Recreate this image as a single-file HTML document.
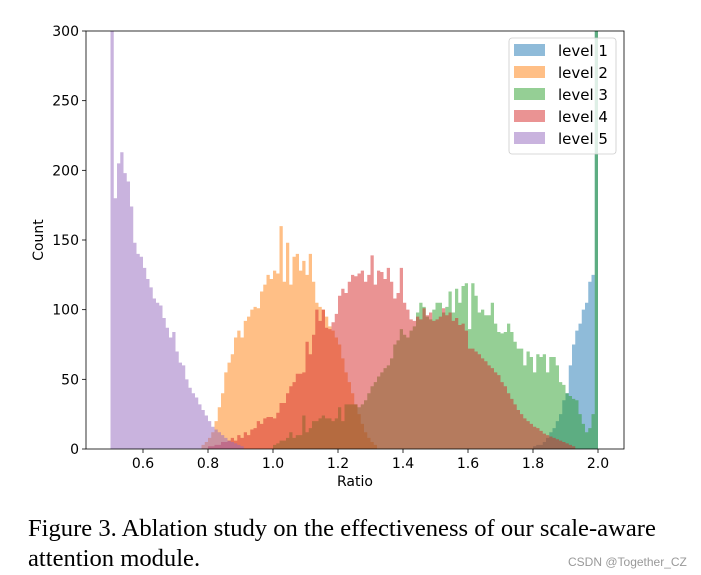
<!DOCTYPE html>
<html><head><meta charset="utf-8"><style>
html,body{margin:0;padding:0;background:#fff;width:701px;height:575px;overflow:hidden}
svg text{font-family:"DejaVu Sans","Liberation Sans",sans-serif}
.cap{position:absolute;left:28px;font-family:"Liberation Serif",serif;font-size:24.6px;color:#000;white-space:nowrap;line-height:30px}
</style></head><body>
<svg id="chart" width="701" height="575" style="position:absolute;left:0;top:0"></svg>
<div class="cap" style="top:514px">Figure 3. Ablation study on the effectiveness of our scale-aware</div>
<div class="cap" style="top:544px">attention module.</div>
<div style="position:absolute;left:568px;top:555px;font-family:'Liberation Sans',sans-serif;font-size:12px;color:#999">CSDN @Together_CZ</div>
<script>
const seriesNames=["level 1","level 2","level 3","level 4","level 5"];
const seriesColors=["#1f77b4","#ff7f0e","#2ca02c","#d62728","#9467bd"];
const binWidth=0.01;
const start1=1.80;
const level1=[2,3,3,5,8,12,15,20,25,35,40,60,75,85,90,100,105,120,125,330];
const start2=0.78;
const level2=[3,5,8,12,20,30,40,55,62,68,80,85,80,92,95,100,102,101,113,118,125,122,128,126,160,120,148,118,138,140,128,135,125,140,120,105,102,100,95,88,85,80,75,65,55,48,40,32,25,18,12,8,5,3];
const start3=1.00;
const level3=[3,4,6,6,8,12,8,10,10,24,12,15,20,20,22,24,22,22,20,22,30,20,32,32,32,32,30,32,35,40,45,48,52,55,58,60,65,75,78,86,82,80,85,88,98,105,102,95,93,100,105,105,98,102,113,98,115,105,117,119,86,119,110,98,100,96,96,105,90,84,83,84,90,84,77,72,72,60,70,66,55,68,66,68,55,66,66,60,48,46,40,38,36,35,25,18,12,15,25,330];
const start4=0.80;
const level4=[2,2,3,3,5,5,6,8,6,10,8,12,10,14,15,20,18,22,23,23,22,26,33,33,40,45,48,54,54,55,77,68,82,100,92,100,87,86,91,97,110,115,112,120,125,124,126,128,120,125,139,118,128,127,122,130,120,108,112,130,105,100,93,92,95,93,101,96,98,92,93,95,101,96,98,92,94,89,90,85,72,72,70,68,65,63,60,58,55,53,48,45,40,36,32,28,25,22,20,18,16,15,13,11,10,9,8,7,6,5,4,3,2];
const start5=0.50;
const level5=[320,180,205,213,198,192,174,148,140,138,130,122,116,108,105,103,94,87,80,84,70,62,60,50,44,40,37,32,28,24,20,16,14,12,10,8,6,5,4,3,2];
const xTicks=[0.6,0.8,1.0,1.2,1.4,1.6,1.8,2.0];
const yTicks=[0,50,100,150,200,250,300];

const svg=document.getElementById('chart');
const NS="http://www.w3.org/2000/svg";
const L=86,R=624,T=31,B=449;
const xs=v=>110.5+(v-0.5)*325;
const ys=c=>B-(c/300)*(B-T);
function mk(tag,attrs){const e=document.createElementNS(NS,tag);for(const k in attrs)e.setAttribute(k,attrs[k]);svg.appendChild(e);return e;}
const defs=mk('defs',{});
const cp=document.createElementNS(NS,'clipPath');cp.setAttribute('id','plotclip');
const cr=document.createElementNS(NS,'rect');cr.setAttribute('x',L);cr.setAttribute('y',T);cr.setAttribute('width',R-L);cr.setAttribute('height',B-T);
cp.appendChild(cr);defs.appendChild(cp);
const g=mk('g',{'clip-path':'url(#plotclip)'});


const all=[[start1,level1],[start2,level2],[start3,level3],[start4,level4],[start5,level5]];
all.forEach((s,si)=>{
  const [st,vals]=s;
  let d='';
  vals.forEach((c,i)=>{
    const x0=xs(st+i*binWidth),x1=xs(st+(i+1)*binWidth);
    const y=ys(c);
    d+=`M${x0},${B}V${y}H${x1}V${B}Z`;
  });
  const p=document.createElementNS(NS,'path');
  p.setAttribute('d',d);p.setAttribute('fill',seriesColors[si]);p.setAttribute('fill-opacity','0.5');
  
  
  g.appendChild(p);
});
const frame=mk('rect',{x:L,y:T,width:R-L,height:B-T,fill:'none',stroke:'#000','stroke-width':0.8});


xTicks.forEach(v=>{
  const x=xs(v);
  mk('line',{x1:x,x2:x,y1:B,y2:B+4,stroke:'#000','stroke-width':0.8});
  const t=mk('text',{x:x,y:B+19,'text-anchor':'middle','font-size':14,fill:'#000'});
  t.textContent=v.toFixed(1);
  
  
});
yTicks.forEach(v=>{
  const y=ys(v);
  mk('line',{x1:L-4,x2:L,y1:y,y2:y,stroke:'#000','stroke-width':0.8});
  const t=mk('text',{x:L-7,y:y+5,'text-anchor':'end','font-size':14,fill:'#000'});
  t.textContent=v;
  
  
});
const xt=mk('text',{x:355,y:486,'text-anchor':'middle','font-size':14,fill:'#000'});xt.textContent='Ratio';


const yt=mk('text',{x:43,y:240,'text-anchor':'middle','font-size':14,fill:'#000',transform:'rotate(-90 43 240)'});yt.textContent='Count';


const lg=mk('rect',{x:509,y:38,width:107,height:116,rx:3,fill:'#fff','fill-opacity':0.8,stroke:'#ccc','stroke-width':0.8});


seriesNames.forEach((n,i)=>{
  const y=44+i*22;
  const r=mk('rect',{x:514,y:y,width:31,height:12,fill:seriesColors[i],'fill-opacity':0.5});
  
  
  const t=mk('text',{x:558,y:y+12,'font-size':15,fill:'#000'});t.textContent=n;
  
  
});
</script>
</body></html>
